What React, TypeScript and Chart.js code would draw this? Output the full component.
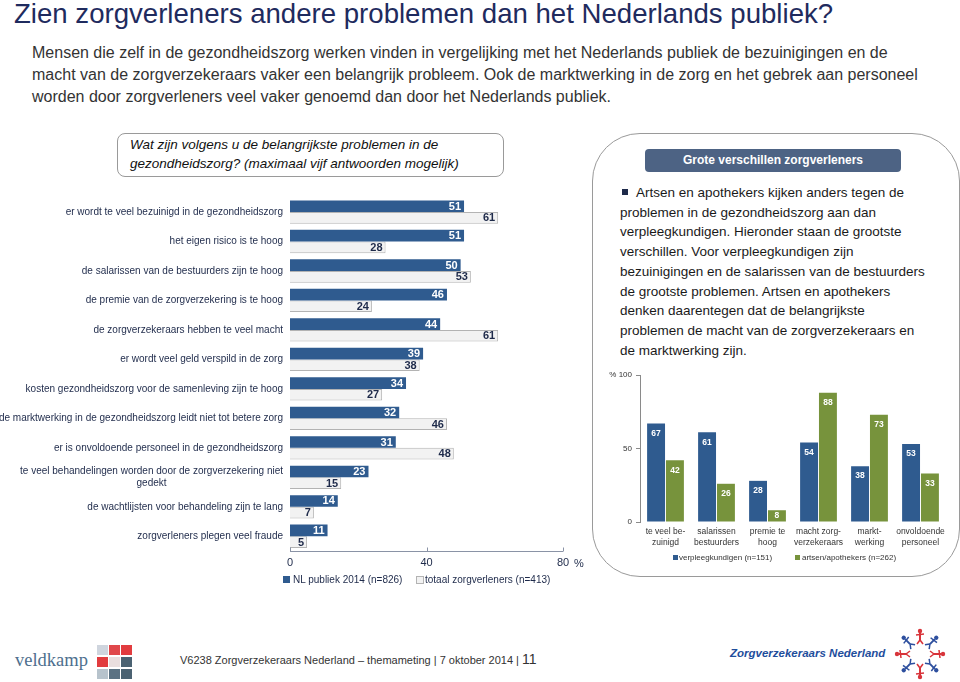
import React, { useEffect, useRef } from 'react';
import { Chart, registerables } from 'chart.js';

Chart.register(...registerables);

// ---------- data: left chart ----------
const problemLabels: (string | string[])[] = [
  'er wordt te veel bezuinigd in de gezondheidszorg',
  'het eigen risico is te hoog',
  'de salarissen van de bestuurders zijn te hoog',
  'de premie van de zorgverzekering is te hoog',
  'de zorgverzekeraars hebben te veel macht',
  'er wordt veel geld verspild in de zorg',
  'kosten gezondheidszorg voor de samenleving zijn te hoog',
  'de marktwerking in de gezondheidszorg leidt niet tot betere zorg',
  'er is onvoldoende personeel in de gezondheidszorg',
  ['te veel behandelingen worden door de zorgverzekering niet', 'gedekt'],
  'de wachtlijsten voor behandeling zijn te lang',
  'zorgverleners plegen veel fraude',
];
const nlPubliek = [51, 51, 50, 46, 44, 39, 34, 32, 31, 23, 14, 11];
const totaalZorgverleners = [61, 28, 53, 24, 61, 38, 27, 46, 48, 15, 7, 5];
const leftTicks = [0, 40, 80];

// ---------- data: right chart ----------
const groupLabels: string[][] = [
  ['te veel be-', 'zuinigd'],
  ['salarissen', 'bestuurders'],
  ['premie te', 'hoog'],
  ['macht zorg-', 'verzekeraars'],
  ['markt-', 'werking'],
  ['onvoldoende', 'personeel'],
];
const verpleegkundigen = [67, 61, 28, 54, 38, 53];
const artsenApothekers = [42, 26, 8, 88, 73, 33];
const rightTicks = [0, 50, 100];

const FONT = '"Liberation Sans", Arial, Helvetica, sans-serif';
const NAVY = '#1e2a4a';
const BLUE = '#2f5b8f';
const GREEN = '#77933c';

function LeftChart() {
  const ref = useRef<HTMLCanvasElement>(null);
  useEffect(() => {
    if (!ref.current) return;
    const labelPlugin = {
      id: 'leftLabels',
      afterDatasetsDraw(chart: any) {
        const ctx = chart.ctx;
        ctx.save();
        // value labels
        chart.data.datasets.forEach((ds: any, di: number) => {
          const meta = chart.getDatasetMeta(di);
          meta.data.forEach((el: any, i: number) => {
            ctx.font = `bold 11px ${FONT}`;
            ctx.fillStyle = di === 0 ? '#ffffff' : NAVY;
            ctx.textAlign = 'right';
            ctx.textBaseline = 'middle';
            ctx.fillText(String(ds.data[i]), el.x - 3, el.y + 0.5);
          });
        });
        // category labels
        const ys = chart.scales.y;
        const right = chart.chartArea.left - 7;
        ctx.font = `10px ${FONT}`;
        ctx.fillStyle = NAVY;
        ctx.textBaseline = 'middle';
        problemLabels.forEach((lab, i) => {
          const y = ys.getPixelForValue(i);
          if (Array.isArray(lab)) {
            const maxW = Math.max(...lab.map((l) => ctx.measureText(l).width));
            const cx = right - maxW / 2;
            ctx.textAlign = 'center';
            lab.forEach((l, k) => ctx.fillText(l, cx, y + (k - (lab.length - 1) / 2) * 12));
          } else {
            ctx.textAlign = 'right';
            ctx.fillText(lab, right, y);
          }
        });
        // axis line with upward ticks
        const xs = chart.scales.x;
        const b = Math.round(chart.chartArea.bottom) + 0.5;
        ctx.strokeStyle = '#8a93a6';
        ctx.lineWidth = 1;
        ctx.beginPath();
        ctx.moveTo(xs.left, b);
        ctx.lineTo(xs.right, b);
        leftTicks.forEach((t) => {
          const x = Math.round(xs.getPixelForValue(t)) + 0.5;
          ctx.moveTo(x, b);
          ctx.lineTo(x, b - 4);
        });
        ctx.stroke();
        ctx.font = `11px ${FONT}`;
        ctx.fillStyle = NAVY;
        ctx.textAlign = 'left';
        ctx.textBaseline = 'middle';
        ctx.fillText('%', xs.getPixelForValue(80) + 11, b + 12);
        ctx.restore();
      },
    };
    const chart = new Chart(ref.current, {
      type: 'bar',
      data: {
        labels: problemLabels as any,
        datasets: [
          {
            label: 'NL publiek 2014 (n=826)',
            data: nlPubliek,
            backgroundColor: BLUE,
            borderWidth: 0,
            categoryPercentage: 0.79,
            barPercentage: 1,
          },
          {
            label: 'totaal zorgverleners (n=413)',
            data: totaalZorgverleners,
            backgroundColor: '#f2f2f2',
            borderColor: '#b3b3b3',
            borderWidth: 1,
            categoryPercentage: 0.79,
            barPercentage: 1,
          },
        ],
      },
      options: {
        indexAxis: 'y',
        responsive: false,
        animation: false,
        devicePixelRatio: 1,
        layout: { padding: { top: 17.3, right: 37, left: 0, bottom: 0 } },
        plugins: { legend: { display: false }, tooltip: { enabled: false } },
        scales: {
          x: {
            min: 0,
            max: 80,
            ticks: { stepSize: 40, font: { size: 11, family: FONT }, color: NAVY, padding: 5 },
            grid: { display: false, drawTicks: false },
            border: { display: false },
            afterFit: (s: any) => {
              s.height = 29;
            },
          },
          y: {
            ticks: { display: false },
            grid: { display: false, drawTicks: false },
            border: { display: false },
            afterFit: (s: any) => {
              s.width = 290;
            },
          },
        },
      } as any,
      plugins: [labelPlugin],
    });
    return () => chart.destroy();
  }, []);
  return <canvas ref={ref} width={600} height={400} style={{ position: 'absolute', left: 0, top: 180 }} />;
}

function RightChart() {
  const ref = useRef<HTMLCanvasElement>(null);
  useEffect(() => {
    if (!ref.current) return;
    const labelPlugin = {
      id: 'rightLabels',
      afterDatasetsDraw(chart: any) {
        const ctx = chart.ctx;
        ctx.save();
        ctx.font = `bold 8.5px ${FONT}`;
        ctx.fillStyle = '#ffffff';
        ctx.textAlign = 'center';
        ctx.textBaseline = 'middle';
        chart.data.datasets.forEach((ds: any, di: number) => {
          const meta = chart.getDatasetMeta(di);
          meta.data.forEach((el: any, i: number) => {
            const y = Math.min(el.y + 10, (el.y + el.base) / 2);
            ctx.fillText(String(ds.data[i]), el.x, y);
          });
        });
        ctx.restore();
      },
    };
    const chart = new Chart(ref.current, {
      type: 'bar',
      data: {
        labels: groupLabels as any,
        datasets: [
          {
            label: 'verpleegkundigen (n=151)',
            data: verpleegkundigen,
            backgroundColor: BLUE,
            categoryPercentage: 0.74,
            barPercentage: 0.95,
          },
          {
            label: 'artsen/apothekers (n=262)',
            data: artsenApothekers,
            backgroundColor: GREEN,
            categoryPercentage: 0.74,
            barPercentage: 0.95,
          },
        ],
      },
      options: {
        responsive: false,
        animation: false,
        devicePixelRatio: 1,
        layout: { padding: { top: 15, right: 14, left: 0, bottom: 0 } },
        plugins: { legend: { display: false }, tooltip: { enabled: false } },
        scales: {
          x: {
            ticks: {
              font: { size: 8.5, family: FONT, lineHeight: 1.2 },
              color: '#333333',
              padding: 5,
              maxRotation: 0,
              autoSkip: false,
            },
            grid: { display: false, drawTicks: false },
            border: { display: false },
            afterFit: (s: any) => {
              s.height = 33;
            },
          },
          y: {
            min: rightTicks[0],
            max: rightTicks[rightTicks.length - 1],
            ticks: {
              stepSize: 50,
              font: { size: 8, family: FONT },
              color: '#333333',
              padding: 4,
              callback: (v: any) => (v === 100 ? '% 100' : String(v)),
            },
            grid: { drawOnChartArea: false, tickLength: 4, color: '#8a8a8a' },
            border: { color: '#8a8a8a' },
            afterFit: (s: any) => {
              s.width = 40;
            },
          },
        },
      } as any,
      plugins: [labelPlugin],
    });
    return () => chart.destroy();
  }, []);
  return <canvas ref={ref} width={360} height={195} style={{ position: 'absolute', left: 600, top: 360 }} />;
}

const abs = (s: React.CSSProperties): React.CSSProperties => ({ position: 'absolute', ...s });

function Logo() {
  const figs = [];
  for (let i = 0; i < 8; i++) {
    const a = (i / 8) * Math.PI * 2;
    const cx = 26 + Math.cos(a) * 17;
    const cy = 26 + Math.sin(a) * 17;
    const col = i % 2 === 0 ? '#d8343a' : '#2d4f9e';
    figs.push(
      <g key={i} transform={`translate(${cx},${cy}) rotate(${(a * 180) / Math.PI + 90})`}>
        <circle cx={0} cy={-6} r={2.2} fill={col} />
        <line x1={0} y1={-4} x2={0} y2={3} stroke={col} strokeWidth={2} />
        <line x1={-4} y1={-2} x2={4} y2={-3} stroke={col} strokeWidth={1.5} />
        <line x1={0} y1={3} x2={-3} y2={7} stroke={col} strokeWidth={1.5} />
        <line x1={0} y1={3} x2={3} y2={7} stroke={col} strokeWidth={1.5} />
      </g>
    );
  }
  return (
    <svg width={52} height={52} style={abs({ left: 894, top: 628 })}>
      {figs}
    </svg>
  );
}

function Veldkamp() {
  const cells = [
    '#cfd5de', '#e0484b', '#e23c3f',
    '#e23c3f', '#e9dede', '#4b6272',
    '#b7c3cc', '#5b7283', '#4b6272',
  ];
  return (
    <>
      <div style={abs({ left: 15, top: 649, fontFamily: '"Liberation Serif", "DejaVu Serif", serif', fontSize: 18.5, color: '#4e6f8e', lineHeight: '22px' })}>
        veldkamp
      </div>
      <div style={abs({ left: 97, top: 645, width: 36, height: 34, display: 'grid', gridTemplateColumns: 'repeat(3, 10.5px)', gridAutoRows: '10.3px', gap: 1.5 })}>
        {cells.map((c, i) => (
          <div key={i} style={{ background: c }} />
        ))}
      </div>
    </>
  );
}

export default function App() {
  return (
    <div style={abs({ left: 0, top: 0, width: 960, height: 682, background: '#ffffff', overflow: 'hidden', fontFamily: FONT })}>
      <div style={abs({ left: 14, top: -2, fontSize: 27.6, lineHeight: '32px', color: '#1f2b5e', whiteSpace: 'nowrap' })}>
        Zien zorgverleners andere problemen dan het Nederlands publiek?
      </div>
      <div style={abs({ left: 32, top: 42, fontSize: 16, lineHeight: '22px', color: '#333333', whiteSpace: 'nowrap' })}>
        Mensen die zelf in de gezondheidszorg werken vinden in vergelijking met het Nederlands publiek de bezuinigingen en de
        <br />
        macht van de zorgverzekeraars vaker een belangrijk probleem. Ook de marktwerking in de zorg en het gebrek aan personeel
        <br />
        worden door zorgverleners veel vaker genoemd dan door het Nederlands publiek.
      </div>

      <div style={abs({ left: 117, top: 133, width: 385, height: 42, border: '1px solid #9a9a9a', borderRadius: 8 })} />
      <div style={abs({ left: 130, top: 135, fontSize: 13.5, lineHeight: '19px', fontStyle: 'italic', color: '#111111', whiteSpace: 'nowrap' })}>
        Wat zijn volgens u de belangrijkste problemen in de
        <br />
        gezondheidszorg? (maximaal vijf antwoorden mogelijk)
      </div>

      <div style={abs({ left: 592, top: 133, width: 366, height: 442, border: '1px solid #9a9a9a', borderRadius: 48 })} />
      <div
        style={abs({
          left: 645,
          top: 149,
          width: 256,
          height: 23,
          background: '#4d6384',
          borderRadius: 4,
          color: '#ffffff',
          fontWeight: 'bold',
          fontSize: 12,
          lineHeight: '23px',
          textAlign: 'center',
        })}
      >
        Grote verschillen zorgverleners
      </div>
      <div style={abs({ left: 620, top: 183, fontSize: 13.5, lineHeight: '19.7px', color: '#1a1a1a', whiteSpace: 'nowrap' })}>
        <span style={{ display: 'inline-block', width: 6, height: 6, background: NAVY, marginLeft: 2, marginRight: 8, verticalAlign: 'middle', position: 'relative', top: -1 }} />
        Artsen en apothekers kijken anders tegen de
        <br />
        problemen in de gezondheidszorg aan dan
        <br />
        verpleegkundigen. Hieronder staan de grootste
        <br />
        verschillen. Voor verpleegkundigen zijn
        <br />
        bezuinigingen en de salarissen van de bestuurders
        <br />
        de grootste problemen. Artsen en apothekers
        <br />
        denken daarentegen dat de belangrijkste
        <br />
        problemen de macht van de zorgverzekeraars en
        <br />
        de marktwerking zijn.
      </div>

      <LeftChart />
      <RightChart />

      {/* left legend */}
      <div style={abs({ left: 283, top: 576, width: 7, height: 7, background: BLUE })} />
      <div style={abs({ left: 293, top: 573, fontSize: 10, lineHeight: '14px', color: NAVY, whiteSpace: 'nowrap' })}>NL publiek 2014 (n=826)</div>
      <div style={abs({ left: 416, top: 576, width: 6, height: 6, background: '#f2f2f2', border: '1px solid #b3b3b3' })} />
      <div style={abs({ left: 425, top: 573, fontSize: 10, lineHeight: '14px', color: NAVY, whiteSpace: 'nowrap' })}>totaal zorgverleners (n=413)</div>

      {/* right legend */}
      <div style={abs({ left: 673, top: 555, width: 5, height: 5, background: BLUE })} />
      <div style={abs({ left: 679, top: 552, fontSize: 8, lineHeight: '11px', color: '#333333', whiteSpace: 'nowrap' })}>verpleegkundigen (n=151)</div>
      <div style={abs({ left: 795, top: 555, width: 5, height: 5, background: GREEN })} />
      <div style={abs({ left: 802, top: 552, fontSize: 8, lineHeight: '11px', color: '#333333', whiteSpace: 'nowrap' })}>artsen/apothekers (n=262)</div>

      {/* footer */}
      <Veldkamp />
      <div style={abs({ left: 180, top: 651, fontSize: 11, lineHeight: '16px', color: '#333333', whiteSpace: 'nowrap' })}>
        V6238 Zorgverzekeraars Nederland – themameting | 7 oktober 2014 | <span style={{ fontSize: 14 }}>11</span>
      </div>
      <div style={abs({ left: 730, top: 645, fontSize: 11.5, lineHeight: '16px', fontStyle: 'italic', fontWeight: 'bold', color: '#1f4e9c', whiteSpace: 'nowrap' })}>
        Zorgverzekeraars Nederland
      </div>
      <Logo />
    </div>
  );
}
